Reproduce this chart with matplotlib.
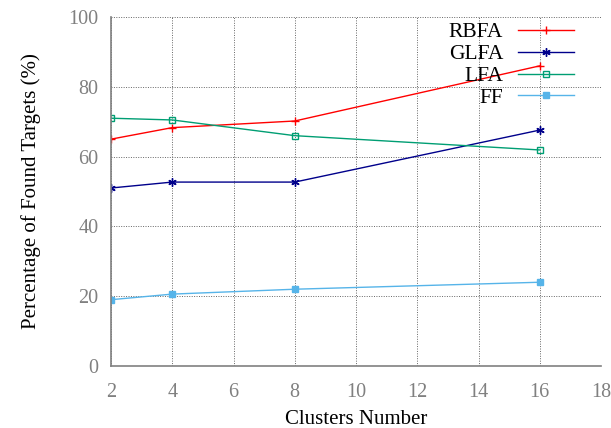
import matplotlib.pyplot as plt

plt.rcParams['font.family'] = ['Liberation Serif', 'DejaVu Serif']

clusters = [2, 4, 8, 16]
rbfa = [65.0, 68.3, 70.2, 86.0]
glfa = [51.0, 52.7, 52.7, 67.6]
lfa = [71.0, 70.5, 66.0, 61.9]
ff = [19.0, 20.6, 22.0, 24.0]

fig = plt.figure(figsize=(6.11, 4.28), dpi=100)
ax = fig.add_axes([111 / 611, 62 / 428, 490 / 611, 349 / 428])

ax.plot(clusters, rbfa, color='#ff0000', lw=1, marker='+', ms=6, mew=1, label='RBFA')
ax.plot(clusters, glfa, color='#00008b', lw=1, marker=(6, 2, 0), ms=6, mew=1, label='GLFA')
ax.plot(clusters, lfa, color='#009e73', lw=1, marker='s', ms=5, mfc='none', mew=1, label='LFA')
ax.plot(clusters, ff, color='#56b4e9', lw=1, marker='s', ms=5, label='FF')

ax.set_xlim(2, 18)
ax.set_ylim(0, 100)
ax.set_xticks(range(2, 19, 2))
ax.set_yticks(range(0, 101, 20))
ax.grid(True, color='#666666', ls=(0, (1, 1.5)), lw=0.7)

for s in ['top', 'right']:
    ax.spines[s].set_visible(False)
for s in ['left', 'bottom']:
    ax.spines[s].set_color('#808080')
    ax.spines[s].set_linewidth(1.2)
ax.tick_params(length=0, labelsize=14.5, labelcolor='#808080')
ax.tick_params(axis='x', pad=12)
ax.tick_params(axis='y', pad=9)

ax.set_xlabel('Clusters Number', fontsize=15, labelpad=6)
ax.set_ylabel('Percentage of Found Targets (%)', fontsize=15, labelpad=20)

ax.legend(loc='upper right', bbox_to_anchor=(0.985, 1.04), frameon=False, markerfirst=False,
          fontsize=15.5, handlelength=2.6, labelspacing=0.08, handletextpad=0.7)

fig.savefig('out.png', dpi=100)
